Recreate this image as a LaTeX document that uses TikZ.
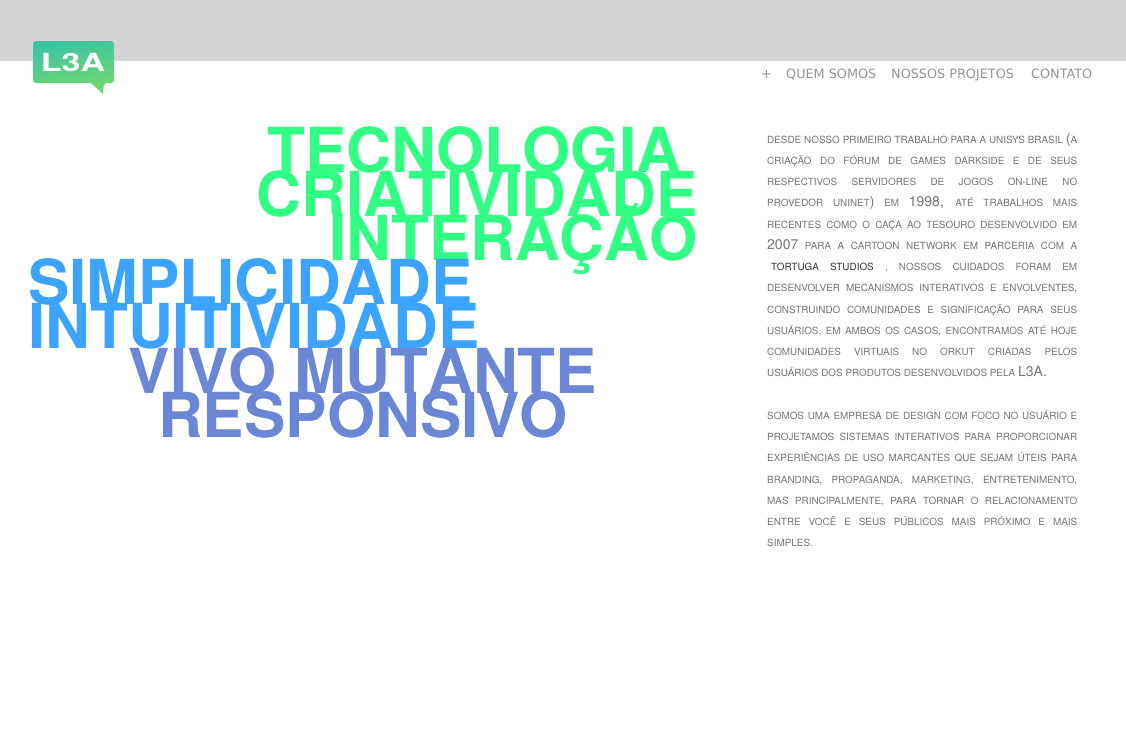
\documentclass[tikz,border=0pt]{standalone}
\usepackage{fontspec}
\setmainfont{TeX Gyre Heros}
\newfontfamily\navfont{DejaVu Sans}
\newfontfamily\wordfont[Kerning=Off]{TeX Gyre Heros}
\definecolor{bandgray}{HTML}{D4D4D4}
\definecolor{wordgreen}{HTML}{30FF84}
\definecolor{wordblue}{HTML}{3CA4FF}
\definecolor{wordslate}{HTML}{6C86D6}
\definecolor{navgray}{HTML}{959595}
\definecolor{copygray}{HTML}{757575}
\definecolor{logoteal}{HTML}{3CC4A4}
\definecolor{logogreen}{HTML}{74D96C}
\newcommand{\copyline}[1]{\hbox to 310pt{#1}}
\newcommand{\bigpart}[1]{{\fontsize{14}{14}\selectfont #1}}
\tikzset{
  headword/.style={anchor=base west, inner sep=0pt, font=\fontsize{62}{62}\selectfont\wordfont\bfseries},
  navlink/.style={anchor=base west, inner sep=0pt, text=navgray, font=\fontsize{12.8}{12.8}\selectfont\navfont},
  copytext/.style={anchor=base west, inner sep=0pt, text=copygray, font=\fontsize{9.9}{9.9}\selectfont}
}
\begin{document}
\begin{tikzpicture}[x=1pt,y=-1pt]
  \useasboundingbox (0,0) rectangle (1126,742);
  \fill[bandgray] (0,0) rectangle (1126,61);

  \shade[top color=logoteal, bottom color=logogreen, shading angle=10, rounded corners=3pt]
    (33,41) -- (114,41) -- (114,83) -- (104,83) [sharp corners] -- (103,94) -- (91,83) [rounded corners=3pt] -- (33,83) -- cycle;
  \node[inner sep=0pt, text=white, font=\fontsize{25}{25}\selectfont\bfseries, xscale=1.36] (logo) at (73,62) {L3A};

  \node[navlink] (plus) at (761,78) {+};
  \node[navlink] (quem) at (786,78) {QUEM SOMOS};
  \node[navlink] (projetos) at (891,78) {NOSSOS PROJETOS};
  \node[navlink] (contato) at (1031,78) {CONTATO};

  \node[headword, text=wordgreen] (w1) at (267.5,172) {TECNOLOGIA};
  \node[headword, text=wordgreen] (w2) at (256.5,216) {CRIATIVIDADE};
  \node[headword, text=wordgreen] (w3) at (329,260) {INTERAÇÃO};
  \node[headword, text=wordblue] (w4) at (28,304) {SIMPLICIDADE};
  \node[headword, text=wordblue] (w5) at (28,348) {INTUITIVIDADE};
  \node[headword, text=wordslate] (w6) at (128.5,393) {VIVO MUTANTE};
  \node[headword, text=wordslate] (w7) at (158,437) {RESPONSIVO};

  \node[copytext] (a1) at (767,143) {\copyline{DESDE NOSSO PRIMEIRO TRABALHO PARA A UNISYS BRASIL \bigpart{(}A}};
  \node[copytext] (a2) at (767,164) {\copyline{CRIAÇÃO DO FÓRUM DE GAMES DARKSIDE E DE SEUS}};
  \node[copytext] (a3) at (767,185) {\copyline{RESPECTIVOS SERVIDORES DE JOGOS ON-LINE NO}};
  \node[copytext] (a4) at (767,206) {\copyline{PROVEDOR UNINET\bigpart{)} EM \bigpart{1998,} ATÉ TRABALHOS MAIS}};
  \node[copytext] (a5) at (767,228) {\copyline{RECENTES COMO O CAÇA AO TESOURO DESENVOLVIDO EM}};
  \node[copytext] (a6) at (767,249) {\copyline{\bigpart{2007} PARA A CARTOON NETWORK EM PARCERIA COM A}};
  \node[copytext] (a7) at (767,270) {\copyline{\hspace{4pt}\textcolor{black!80}{TORTUGA STUDIOS} , NOSSOS CUIDADOS FORAM EM}};
  \node[copytext] (a8) at (767,291) {\copyline{DESENVOLVER MECANISMOS INTERATIVOS E ENVOLVENTES,}};
  \node[copytext] (a9) at (767,313) {\copyline{CONSTRUINDO COMUNIDADES E SIGNIFICAÇÃO PARA SEUS}};
  \node[copytext] (a10) at (767,334) {\copyline{USUÁRIOS. EM AMBOS OS CASOS, ENCONTRAMOS ATÉ HOJE}};
  \node[copytext] (a11) at (767,355) {\copyline{COMUNIDADES VIRTUAIS NO ORKUT CRIADAS PELOS}};
  \node[copytext] (a12) at (767,376) {USUÁRIOS DOS PRODUTOS DESENVOLVIDOS PELA \bigpart{L3A.}};

  \node[copytext] (b1) at (767,419) {\copyline{SOMOS UMA EMPRESA DE DESIGN COM FOCO NO USUÁRIO E}};
  \node[copytext] (b2) at (767,440) {\copyline{PROJETAMOS SISTEMAS INTERATIVOS PARA PROPORCIONAR}};
  \node[copytext] (b3) at (767,461) {\copyline{EXPERIÊNCIAS DE USO MARCANTES QUE SEJAM ÚTEIS PARA}};
  \node[copytext] (b4) at (767,483) {\copyline{BRANDING, PROPAGANDA, MARKETING, ENTRETENIMENTO,}};
  \node[copytext] (b5) at (767,504) {\copyline{MAS PRINCIPALMENTE, PARA TORNAR O RELACIONAMENTO}};
  \node[copytext] (b6) at (767,525) {\copyline{ENTRE VOCÊ E SEUS PÚBLICOS MAIS PRÓXIMO E MAIS}};
  \node[copytext] (b7) at (767,546) {SIMPLES.};
\end{tikzpicture}
\end{document}
